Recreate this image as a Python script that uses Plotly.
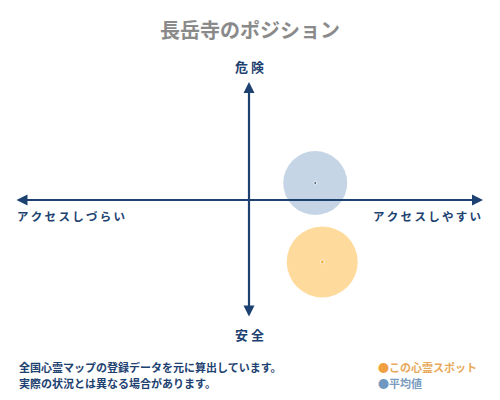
import plotly.graph_objects as go

# positions on the access (x) / danger (y) plane, range -10..10
names = ["平均値", "この心霊スポット"]
x_vals = [2.83, 3.13]
y_vals = [1.44, -5.25]
sizes = [64, 71]
fill_colors = ["rgba(150,178,208,0.78)", "rgba(253,196,95,0.88)"]
dot_colors = ["#1b2f4a", "#f0a020"]

title_text = "長岳寺のポジション"
top_label = "危 険"
bottom_label = "安 全"
left_label = "ア\u2009ク\u2009セ\u2009ス\u2009し\u2009づ\u2009ら\u2009い"
right_label = "ア\u2009ク\u2009セ\u2009ス\u2009し\u2009や\u2009す\u2009い"
note_lines = ["全国心霊マップの登録データを元に算出しています。",
              "実際の状況とは異なる場合があります。"]

NAVY = "#1d4170"
FONT = "Noto Sans CJK JP"

fig = go.Figure()

# big circles
fig.add_trace(go.Scatter(
    x=x_vals, y=y_vals, mode="markers",
    marker=dict(size=sizes, color=fill_colors, line=dict(width=0)),
    hoverinfo="skip"))
# centre dots
fig.add_trace(go.Scatter(
    x=x_vals, y=y_vals, mode="markers",
    marker=dict(size=[3, 4], color=dot_colors),
    hoverinfo="skip"))

arrow = dict(showarrow=True, arrowhead=2, arrowside="end+start", arrowsize=1,
             arrowwidth=2.2, arrowcolor=NAVY, text="", axref="x", ayref="y",
             xref="x", yref="y", standoff=0, startstandoff=0)
fig.add_annotation(x=10, y=0, ax=-10, ay=0, **arrow)
fig.add_annotation(x=0, y=10, ax=0, ay=-10, **arrow)

def label(text, x, y, size, color, xanchor="center", bold=True):
    t = "<b>%s</b>" % text if bold else text
    fig.add_annotation(x=x, y=y, xref="paper", yref="paper", text=t,
                       showarrow=False, xanchor=xanchor, yanchor="middle",
                       font=dict(family=FONT, size=size, color=color))

# paper coords: plot area spans x 15..483, y 82..318 of the page
def px(x):
    return (x - 15) / 468.0

def py(y):
    return (318 - y) / 236.0

label(title_text, px(250), py(30), 20, "#8a8a8a")
label(top_label, px(249), py(67), 13, NAVY)
label(bottom_label, px(249), py(334), 13, NAVY)
label(left_label, px(15), py(216), 11.5, NAVY, xanchor="left")
label(right_label, px(483), py(216), 11.5, NAVY, xanchor="right")
label(note_lines[0], px(17), py(367), 11, NAVY, xanchor="left")
label(note_lines[1], px(17), py(383), 11, NAVY, xanchor="left")

fig.add_annotation(x=px(376), y=py(366.5), xref="paper", yref="paper",
                   showarrow=False, xanchor="left", yanchor="middle",
                   text="<span style='color:#f0a040'>●</span><b>" + names[1] + "</b>",
                   font=dict(family=FONT, size=11, color="#e8a85a"))
fig.add_annotation(x=px(376), y=py(383), xref="paper", yref="paper",
                   showarrow=False, xanchor="left", yanchor="middle",
                   text="<span style='color:#6f97c2'>●</span><b>" + names[0] + "</b>",
                   font=dict(family=FONT, size=11, color="#7a9cc0"))

fig.update_xaxes(range=[-10, 10], visible=False, fixedrange=True)
fig.update_yaxes(range=[-10, 10], visible=False, fixedrange=True)
# page body has an 8px margin, so the plot area is offset accordingly
fig.update_layout(width=500, height=400, showlegend=False,
                  margin=dict(l=7, r=25, t=74, b=90),
                  paper_bgcolor="white", plot_bgcolor="white")

fig.write_html("out.html")
